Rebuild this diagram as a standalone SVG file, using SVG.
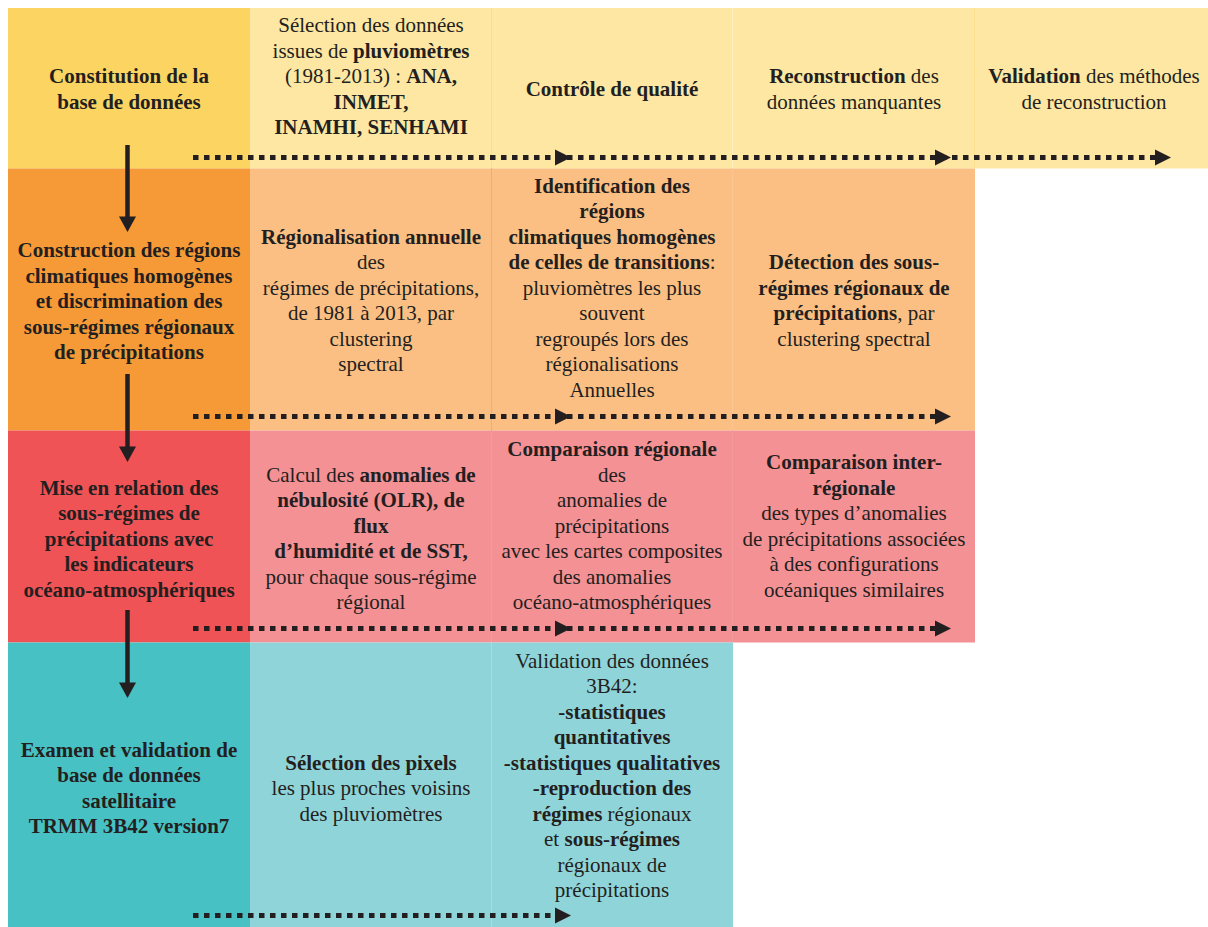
<svg xmlns="http://www.w3.org/2000/svg" width="1208" height="927" viewBox="0 0 1208 927">
<defs>
<style>
.t{font-family:"Liberation Serif","Times New Roman",serif;font-size:21px;fill:#231F20;text-anchor:middle}
.b{font-weight:bold}
.dot{fill:none;stroke:#231F20;stroke-width:5;stroke-dasharray:5.5 5.5}
.vl{stroke:#231F20;stroke-width:4.5;fill:none}
.hd{fill:#231F20}
.sep{stroke-width:1;fill:none}
</style>
<path id="ah" d="M0,-8 L16,0 L0,8 Z"/>
<path id="av" d="M-8.5,0 L8.5,0 L0,15.5 Z"/>
</defs>
<rect width="1208" height="927" fill="#FFFFFF"/>

<g id="row1">
<rect x="8" y="8" width="242" height="160.5" fill="#FCD462"/>
<rect x="250" y="8" width="958" height="160.5" fill="#FDE7A2"/>
<line class="sep" x1="491.5" y1="8" x2="491.5" y2="168" stroke="#FCDF8C"/>
<line class="sep" x1="732.5" y1="8" x2="732.5" y2="168" stroke="#FEEEC0"/>
<line class="sep" x1="974.5" y1="8" x2="974.5" y2="168" stroke="#FCDF8C"/>
</g>
<g id="row2">
<rect x="8" y="168.5" width="242" height="262" fill="#F59A36"/>
<rect x="250" y="168.5" width="725" height="262" fill="#FBBF83"/>
<line class="sep" x1="491.5" y1="168" x2="491.5" y2="430" stroke="#F8AC66"/>
<line class="sep" x1="732.5" y1="168" x2="732.5" y2="430" stroke="#FCC691"/>
</g>
<g id="row3">
<rect x="8" y="430.5" width="242" height="212" fill="#EF5355"/>
<rect x="250" y="430.5" width="725" height="212" fill="#F39194"/>
<line class="sep" x1="491.5" y1="430" x2="491.5" y2="642" stroke="#F4A086"/>
<line class="sep" x1="732.5" y1="430" x2="732.5" y2="642" stroke="#F49A9C"/>
</g>
<g id="row4">
<rect x="8" y="642.5" width="242" height="284.5" fill="#48C1C4"/>
<rect x="250" y="642.5" width="483" height="284.5" fill="#8FD4D9"/>
<line class="sep" x1="491.5" y1="642" x2="491.5" y2="927" stroke="#A6DDE1"/>
</g>

<g id="n-constitution">
<text class="t b" x="129" y="83">Constitution de la</text>
<text class="t b" x="129" y="109">base de données</text>
</g>
<g id="n-selection">
<text class="t" x="371" y="32">Sélection des données</text>
<text class="t" x="371" y="57.5">issues de <tspan class="b">pluviomètres</tspan></text>
<text class="t" x="371" y="83">(1981-2013) : <tspan class="b">ANA,</tspan></text>
<text class="t b" x="371" y="108.5">INMET,</text>
<text class="t b" x="371" y="134">INAMHI, SENHAMI</text>
</g>
<g id="n-controle">
<text class="t b" x="612" y="95.5">Contrôle de qualité</text>
</g>
<g id="n-reconstruction">
<text class="t" x="854" y="83"><tspan class="b">Reconstruction</tspan> des</text>
<text class="t" x="854" y="109">données manquantes</text>
</g>
<g id="n-validation-methodes">
<text class="t" x="1094" y="83"><tspan class="b">Validation</tspan> des méthodes</text>
<text class="t" x="1094" y="109">de reconstruction</text>
</g>

<g id="n-construction">
<text class="t b" x="129" y="257">Construction des régions</text>
<text class="t b" x="129" y="282.5">climatiques homogènes</text>
<text class="t b" x="129" y="308">et discrimination des</text>
<text class="t b" x="129" y="333.5">sous-régimes régionaux</text>
<text class="t b" x="129" y="359">de précipitations</text>
</g>
<g id="n-regionalisation">
<text class="t b" x="371" y="243.5">Régionalisation annuelle</text>
<text class="t" x="371" y="269">des</text>
<text class="t" x="371" y="294.5">régimes de précipitations,</text>
<text class="t" x="371" y="320">de 1981 à 2013, par</text>
<text class="t" x="371" y="345.5">clustering</text>
<text class="t" x="371" y="371">spectral</text>
</g>
<g id="n-identification">
<text class="t b" x="612" y="192.5">Identification des</text>
<text class="t b" x="612" y="218">régions</text>
<text class="t b" x="612" y="243.5">climatiques homogènes</text>
<text class="t" x="612" y="269"><tspan class="b">de celles de transitions</tspan>:</text>
<text class="t" x="612" y="294.5">pluviomètres les plus</text>
<text class="t" x="612" y="320">souvent</text>
<text class="t" x="612" y="345.5">regroupés lors des</text>
<text class="t" x="612" y="371">régionalisations</text>
<text class="t" x="612" y="396.5">Annuelles</text>
</g>
<g id="n-detection">
<text class="t b" x="854" y="269">Détection des sous-</text>
<text class="t b" x="854" y="294.5">régimes régionaux de</text>
<text class="t" x="854" y="320"><tspan class="b">précipitations</tspan>, par</text>
<text class="t" x="854" y="345.5">clustering spectral</text>
</g>

<g id="n-mise-en-relation">
<text class="t b" x="129" y="494.5">Mise en relation des</text>
<text class="t b" x="129" y="520">sous-régimes de</text>
<text class="t b" x="129" y="545.5">précipitations avec</text>
<text class="t b" x="129" y="571">les indicateurs</text>
<text class="t b" x="129" y="596.5">océano-atmosphériques</text>
</g>
<g id="n-calcul">
<text class="t" x="371" y="481.5">Calcul des <tspan class="b">anomalies de</tspan></text>
<text class="t b" x="371" y="507">nébulosité (OLR), de</text>
<text class="t b" x="371" y="532.5">flux</text>
<text class="t b" x="371" y="558">d’humidité et de SST,</text>
<text class="t" x="371" y="583.5">pour chaque sous-régime</text>
<text class="t" x="371" y="609">régional</text>
</g>
<g id="n-comparaison-regionale">
<text class="t b" x="612" y="456">Comparaison régionale</text>
<text class="t" x="612" y="481.5">des</text>
<text class="t" x="612" y="507">anomalies de</text>
<text class="t" x="612" y="532.5">précipitations</text>
<text class="t" x="612" y="558">avec les cartes composites</text>
<text class="t" x="612" y="583.5">des anomalies</text>
<text class="t" x="612" y="609">océano-atmosphériques</text>
</g>
<g id="n-comparaison-inter">
<text class="t b" x="854" y="469">Comparaison inter-</text>
<text class="t b" x="854" y="494.5">régionale</text>
<text class="t" x="854" y="520">des types d’anomalies</text>
<text class="t" x="854" y="545.5">de précipitations associées</text>
<text class="t" x="854" y="571">à des configurations</text>
<text class="t" x="854" y="596.5">océaniques similaires</text>
</g>

<g id="n-examen">
<text class="t b" x="129" y="756.5">Examen et validation de</text>
<text class="t b" x="129" y="782">base de données</text>
<text class="t b" x="129" y="807.5">satellitaire</text>
<text class="t b" x="129" y="833">TRMM 3B42 version7</text>
</g>
<g id="n-selection-pixels">
<text class="t b" x="371" y="769.5">Sélection des pixels</text>
<text class="t" x="371" y="795">les plus proches voisins</text>
<text class="t" x="371" y="820.5">des pluviomètres</text>
</g>
<g id="n-validation-3b42">
<text class="t" x="612" y="667.5">Validation des données</text>
<text class="t" x="612" y="693">3B42:</text>
<text class="t b" x="612" y="718.5">-statistiques</text>
<text class="t b" x="612" y="744">quantitatives</text>
<text class="t b" x="612" y="769.5">-statistiques qualitatives</text>
<text class="t b" x="612" y="795">-reproduction des</text>
<text class="t" x="612" y="820.5"><tspan class="b">régimes</tspan> régionaux</text>
<text class="t" x="612" y="846">et <tspan class="b">sous-régimes</tspan></text>
<text class="t" x="612" y="871.5">régionaux de</text>
<text class="t" x="612" y="897">précipitations</text>
</g>

<g id="connectors">
<line class="vl" x1="127.5" y1="145" x2="127.5" y2="218"/>
<use href="#av" x="127.5" y="216.5" class="hd"/>
<line class="vl" x1="127.5" y1="374" x2="127.5" y2="448"/>
<use href="#av" x="127.5" y="446.5" class="hd"/>
<line class="vl" x1="127.5" y1="610" x2="127.5" y2="684"/>
<use href="#av" x="127.5" y="682.5" class="hd"/>

<line class="dot" x1="193" y1="157.5" x2="1156" y2="157.5"/>
<use href="#ah" x="555" y="157.5" class="hd"/>
<use href="#ah" x="935" y="157.5" class="hd"/>
<use href="#ah" x="1155" y="157.5" class="hd"/>

<line class="dot" x1="193" y1="416.5" x2="936" y2="416.5"/>
<use href="#ah" x="555" y="416.5" class="hd"/>
<use href="#ah" x="935" y="416.5" class="hd"/>

<line class="dot" x1="193" y1="628.5" x2="936" y2="628.5"/>
<use href="#ah" x="555" y="628.5" class="hd"/>
<use href="#ah" x="935" y="628.5" class="hd"/>

<line class="dot" x1="193" y1="915.5" x2="556" y2="915.5"/>
<use href="#ah" x="555" y="915.5" class="hd"/>
</g>
</svg>
